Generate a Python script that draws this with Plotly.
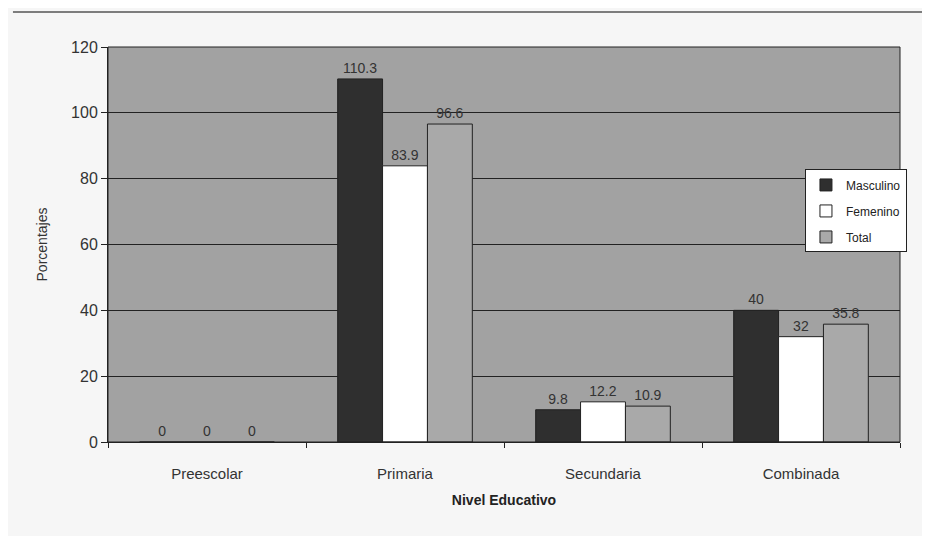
import plotly.graph_objects as go

categories = ["Preescolar", "Primaria", "Secundaria", "Combinada"]
masculino = [0, 110.3, 9.8, 40]
femenino = [0, 83.9, 12.2, 32]
total = [0, 96.6, 10.9, 35.8]
series = [("Masculino", masculino, "#2f2f2f"),
          ("Femenino", femenino, "#ffffff"),
          ("Total", total, "#a9a9a9")]

fig = go.Figure()
for name, vals, col in series:
    fig.add_trace(go.Bar(
        x=categories, y=vals, name=name, legendgroup=name,
        marker=dict(color=col, line=dict(color="#222222", width=1)),
        text=[f"{v:g}" for v in vals], textposition="outside",
        textfont=dict(family="Liberation Sans, Arial", size=14, color="#333333"),
        cliponaxis=False,
    ))

fig.update_layout(
    width=930, height=536,
    barmode="group", bargap=0.32, bargroupgap=0,
    paper_bgcolor="#f6f6f6", plot_bgcolor="#a2a2a2",
    margin=dict(l=100, r=38, t=39, b=102),
    font=dict(family="Liberation Sans, Arial", size=14, color="#333333"),
    legend=dict(x=0.88, y=0.69, xanchor="left", yanchor="top",
                bgcolor="#ffffff", bordercolor="#222222", borderwidth=1,
                font=dict(size=12, color="#222222"), itemwidth=30,
                tracegroupgap=7),
    xaxis=dict(title=dict(text="<b>Nivel Educativo</b>", font=dict(size=14, color="#222222"), standoff=14),
               showline=True, linecolor="#222222", linewidth=1, ticks="outside",
               tickson="boundaries", ticklen=5, tickcolor="#222222", mirror=False,
               ticklabelstandoff=18,
               tickfont=dict(size=15, color="#333333")),
    yaxis=dict(title=dict(text="Porcentajes", font=dict(size=14, color="#333333"), standoff=20),
               range=[0, 120], dtick=20, showline=True, linecolor="#222222", linewidth=1,
               ticks="outside", ticklen=6, tickcolor="#222222",
               showgrid=True, gridcolor="#222222", gridwidth=1, zeroline=False,
               tickfont=dict(size=16, color="#333333")),
)
fig.add_shape(type="rect", xref="paper", yref="paper", x0=0, x1=1, y0=0, y1=1,
              line=dict(color="#222222", width=1))
fig.add_shape(type="line", xref="paper", yref="paper", x0=-0.12, x1=1.04, y0=1.0886, y1=1.0886,
              line=dict(color="#555555", width=1.5))
fig.write_html("out.html")
